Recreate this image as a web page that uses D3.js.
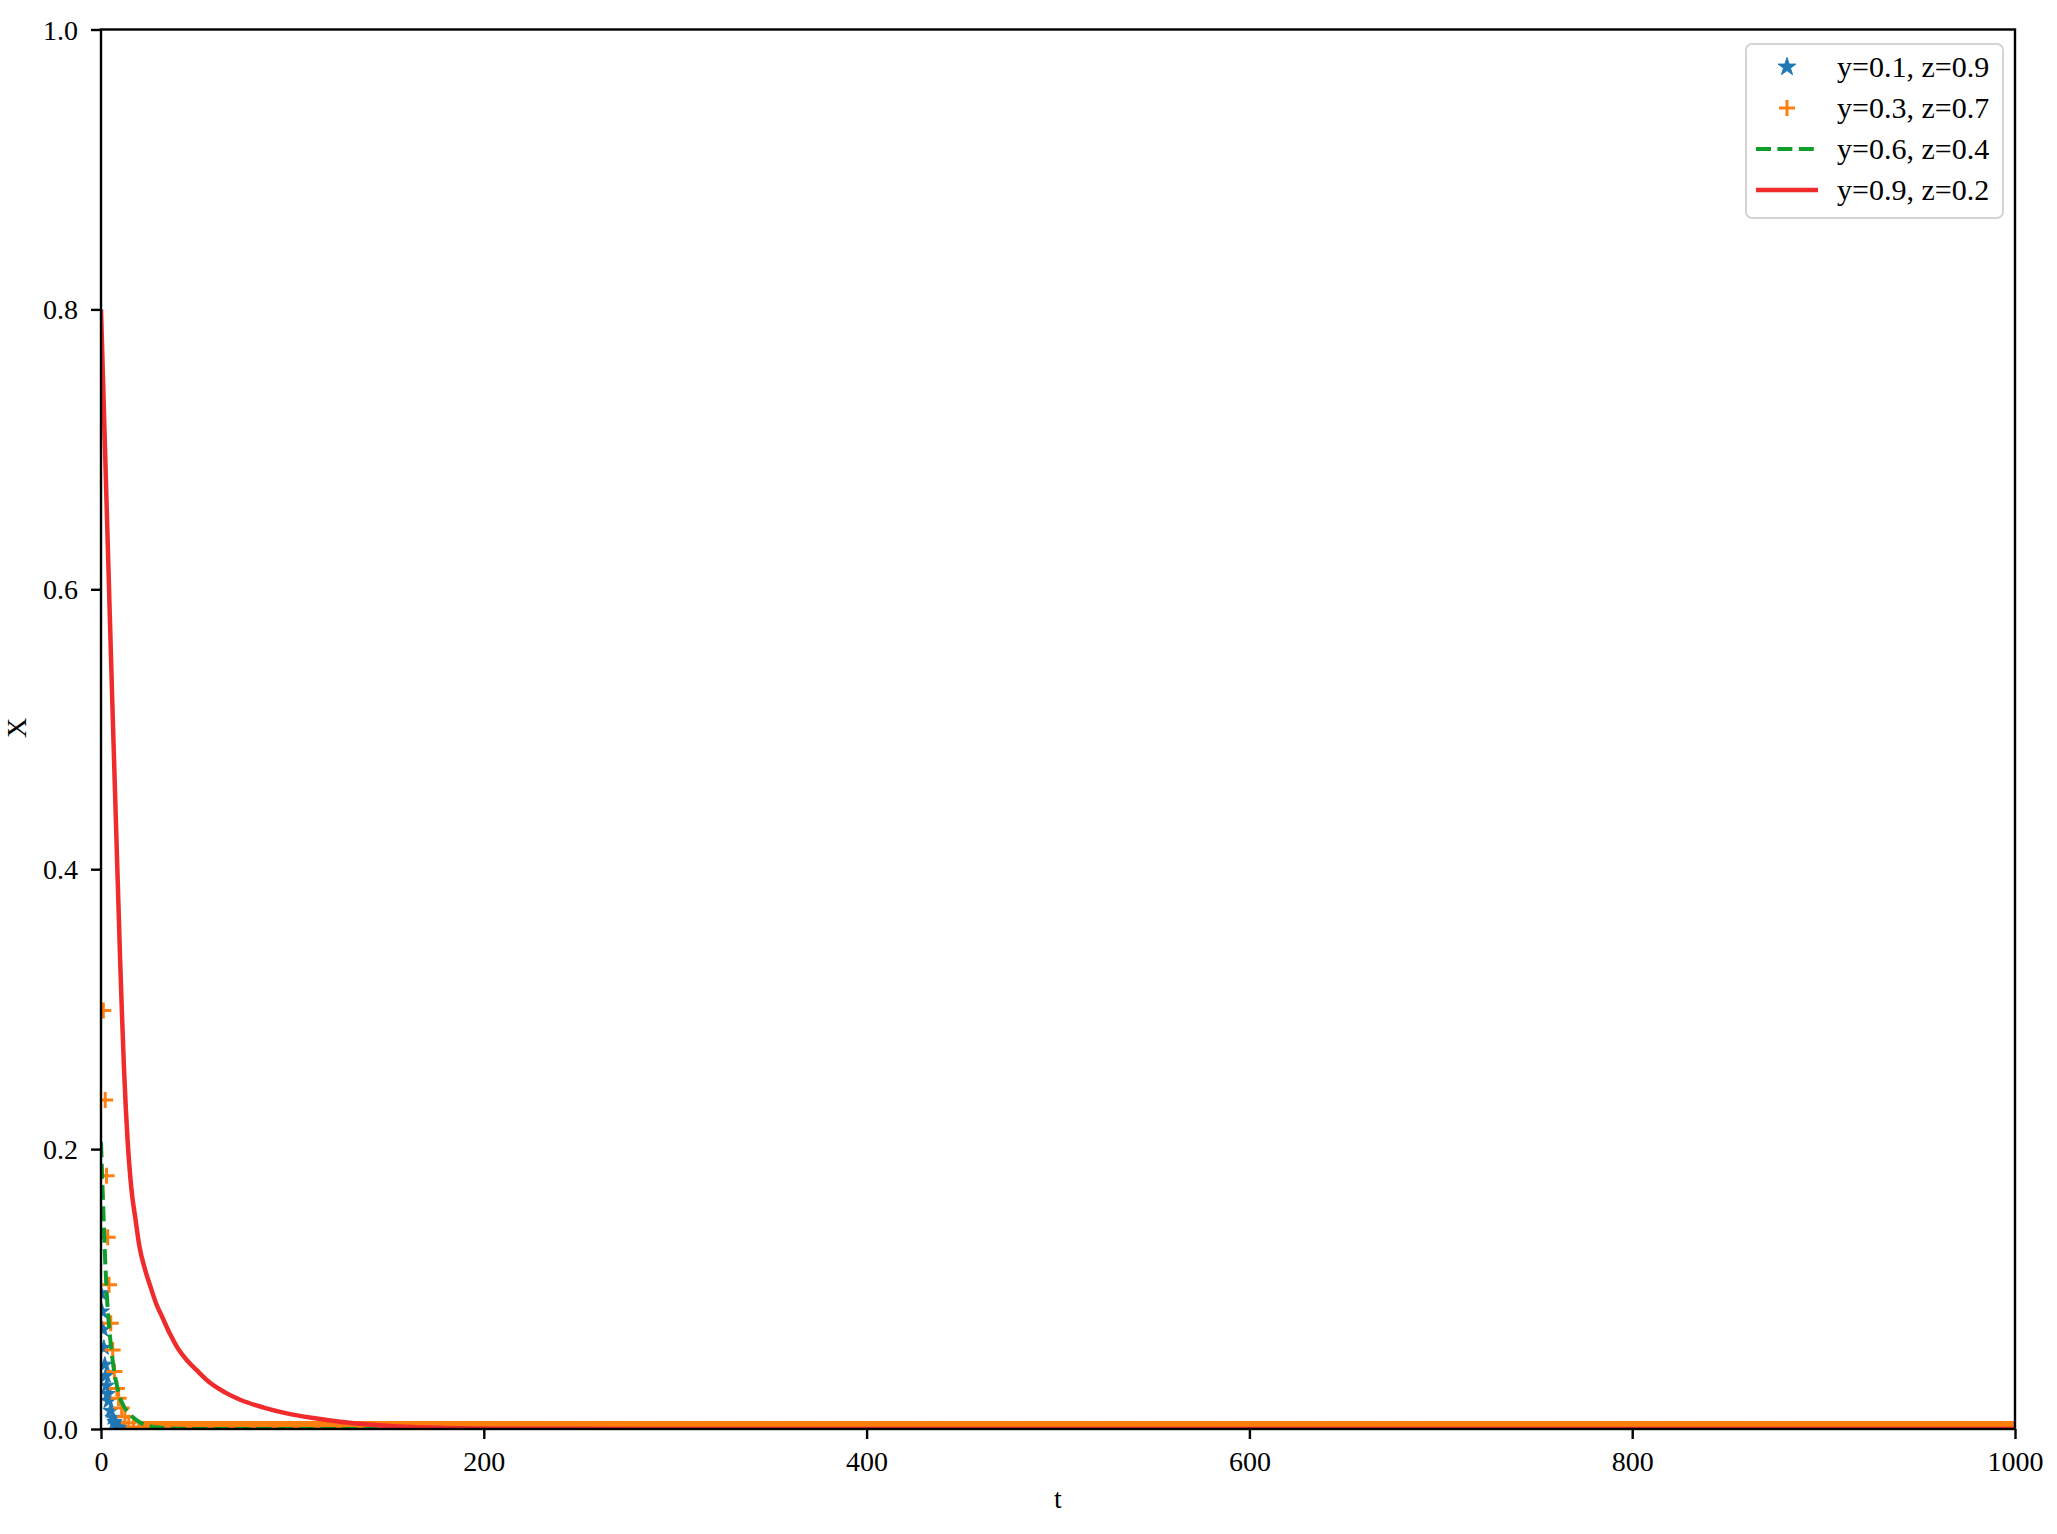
<!DOCTYPE html>
<html>
<head>
<meta charset="utf-8">
<script src="https://cdn.jsdelivr.net/npm/d3@7"></script>
<style>
  body { margin: 0; background: #fff; }
  svg { display: block; background: #fff; font-family: "Liberation Serif", "Times New Roman", serif; }
</style>
</head>
<body>
<svg width="2057" height="1534"></svg>
<script>
// values
const xTicks = [0, 200, 400, 600, 800, 1000];
const yTicks = [0, 0.2, 0.4, 0.6, 0.8, 1.0];
const seriesLabels = ["y=0.1, z=0.9", "y=0.3, z=0.7", "y=0.6, z=0.4", "y=0.9, z=0.2"];
const seriesColors = ["#1f77b4", "#ff7f0e", "#0f9d2c", "#ef2b2b"];

// y=0.1, z=0.9 (stars)
const blueT = [0, 0.5, 1, 1.5, 2, 2.5, 3, 3.5, 4, 5, 6, 7, 8, 9, 10, 11, 12];
const blueX = [0.097, 0.084, 0.071, 0.058, 0.046, 0.038, 0.031, 0.025, 0.02, 0.013, 0.008, 0.005, 0.003, 0.0015, 0.0007, 0.0003, 0.0001];

// y=0.3, z=0.7 (plus markers)
const orangeT = [1.2, 2.2, 2.9, 3.5, 4.2, 5.1, 6.1, 7.0, 8.3, 9.2, 10.8, 12.5, 14.5, 17];
const orangeX = [0.299, 0.235, 0.181, 0.137, 0.103, 0.0755, 0.0564, 0.041, 0.029, 0.022, 0.015, 0.0088, 0.0045, 0.0015];

// y=0.6, z=0.4 (dashed)
const greenT = [0, 1, 2, 3, 4, 5, 6, 7, 8, 10, 12, 14, 17, 20, 24, 30, 40, 60, 1000];
const greenX = [0.205, 0.165, 0.127, 0.097, 0.077, 0.062, 0.05, 0.04, 0.033, 0.022, 0.016, 0.012, 0.008, 0.005, 0.0025, 0.001, 0.0002, 0, 0];

// y=0.9, z=0.2 (solid)
const redT = [0, 2, 4, 6, 8, 10, 11, 12, 13, 14, 16, 18, 20, 23, 26, 29, 32, 36, 40, 45, 50, 57, 65, 73, 85, 97, 110, 125, 140, 156, 180, 220, 300, 1000];
const redX = [0.8, 0.705, 0.61, 0.515, 0.425, 0.335, 0.295, 0.258, 0.228, 0.204, 0.17, 0.15, 0.131, 0.114, 0.101, 0.089, 0.08, 0.068, 0.058, 0.049, 0.042, 0.033, 0.026, 0.0207, 0.0153, 0.0112, 0.008, 0.0052, 0.0032, 0.0018, 0.0008, 0.0002, 0, 0];

// after t~20 the marker runs sit on X=0 for every remaining step of the time grid
const settledT = d3.range(20, 1001);
const settledX = 0;

const svg = d3.select("svg");
const width = +svg.attr("width");
const height = +svg.attr("height");

const margin = { top: 29.5, right: 42, bottom: 105, left: 101 };
const innerWidth = width - margin.left - margin.right;
const innerHeight = height - margin.top - margin.bottom;

const xScale = d3.scaleLinear().domain([0, 1000]).range([0, innerWidth]);
const yScale = d3.scaleLinear().domain([0, 1]).range([innerHeight, 0]);

const g = svg.append("g").attr("transform", `translate(${margin.left},${margin.top})`);

g.append("clipPath").attr("id", "plot-clip")
  .append("rect").attr("width", innerWidth).attr("height", innerHeight);

const zip = (ts, xs) => ts.map((t, i) => ({ t, x: xs[i] }));
const settled = settledT.map((t) => ({ t, x: settledX }));

const plot = g.append("g").attr("clip-path", "url(#plot-clip)");

// stars
const starPath = d3.symbol(d3.symbolStar, 72)();
plot.append("g").selectAll("path")
  .data(zip(blueT, blueX).concat(settled))
  .join("path")
  .attr("d", starPath)
  .attr("transform", (d) => `translate(${xScale(d.t)},${yScale(d.x)})`)
  .attr("fill", seriesColors[0])
  .attr("stroke", seriesColors[0])
  .attr("stroke-width", 1);

// plus markers
const plusPath = "M-8,0H8M0,-8V8";
plot.append("g").selectAll("path")
  .data(zip(orangeT, orangeX).concat(settled))
  .join("path")
  .attr("d", plusPath)
  .attr("transform", (d) => `translate(${xScale(d.t)},${yScale(d.x)})`)
  .attr("fill", "none")
  .attr("stroke", seriesColors[1])
  .attr("stroke-width", 3);

const line = d3.line()
  .x((d) => xScale(d.t))
  .y((d) => yScale(d.x))
  .curve(d3.curveMonotoneX);

plot.append("path")
  .datum(zip(greenT, greenX))
  .attr("d", line)
  .attr("fill", "none")
  .attr("stroke", seriesColors[2])
  .attr("stroke-width", 4)
  .attr("stroke-dasharray", "15,6.4");

plot.append("path")
  .datum(zip(redT, redX))
  .attr("d", line)
  .attr("fill", "none")
  .attr("stroke", seriesColors[3])
  .attr("stroke-width", 4.5)
  .attr("stroke-linejoin", "round");

// axes
const xAxisG = g.append("g")
  .attr("transform", `translate(0,${innerHeight})`)
  .call(d3.axisBottom(xScale).tickValues(xTicks).tickSize(10).tickFormat(d3.format("d")));
const yAxisG = g.append("g")
  .call(d3.axisLeft(yScale).tickValues(yTicks).tickSize(10).tickFormat(d3.format(".1f")));

[xAxisG, yAxisG].forEach((ax) => {
  ax.select(".domain").remove();
  ax.attr("font-family", null).attr("font-size", 28);
  ax.selectAll(".tick line").attr("stroke", "#000").attr("stroke-width", 2.4);
  ax.selectAll(".tick text").attr("fill", "#000").attr("dy", null);
});
// explicit baselines for the tick labels
xAxisG.selectAll(".tick text").attr("y", 41.5);
yAxisG.selectAll(".tick text").attr("x", -23).attr("y", 9.5);

// frame
g.append("rect")
  .attr("width", innerWidth)
  .attr("height", innerHeight)
  .attr("fill", "none")
  .attr("stroke", "#000")
  .attr("stroke-width", 2.4);

// axis labels
g.append("text")
  .attr("x", innerWidth / 2)
  .attr("y", innerHeight + 79)
  .attr("text-anchor", "middle")
  .attr("font-size", 28)
  .text("t");

g.append("text")
  .attr("transform", "rotate(-90)")
  .attr("x", -(728 - margin.top))
  .attr("y", -75)
  .attr("text-anchor", "middle")
  .attr("font-size", 28)
  .text("X");

// legend
const legend = svg.append("g").attr("transform", "translate(1746,44)");
legend.append("rect")
  .attr("width", 257)
  .attr("height", 174)
  .attr("rx", 6)
  .attr("fill", "#fff")
  .attr("stroke", "#d4d4d4")
  .attr("stroke-width", 2);

const rowY = (i) => 23 + i * 41;
const handleX = 41;

legend.append("path")
  .attr("d", d3.symbol(d3.symbolStar, 100)())
  .attr("transform", `translate(${handleX},${rowY(0)})`)
  .attr("fill", seriesColors[0])
  .attr("stroke", seriesColors[0]);

legend.append("path")
  .attr("d", plusPath)
  .attr("transform", `translate(${handleX},${rowY(1)})`)
  .attr("fill", "none")
  .attr("stroke", seriesColors[1])
  .attr("stroke-width", 3);

legend.append("line")
  .attr("x1", handleX - 31).attr("x2", handleX + 31)
  .attr("y1", rowY(2)).attr("y2", rowY(2))
  .attr("stroke", seriesColors[2])
  .attr("stroke-width", 4)
  .attr("stroke-dasharray", "15,6.4");

legend.append("line")
  .attr("x1", handleX - 31).attr("x2", handleX + 31)
  .attr("y1", rowY(3)).attr("y2", rowY(3))
  .attr("stroke", seriesColors[3])
  .attr("stroke-width", 4.5);

legend.selectAll("text.label")
  .data(seriesLabels)
  .join("text")
  .attr("class", "label")
  .attr("x", 91)
  .attr("y", (d, i) => rowY(i) + 10)
  .attr("font-size", 30)
  .text((d) => d);
</script>
</body>
</html>
